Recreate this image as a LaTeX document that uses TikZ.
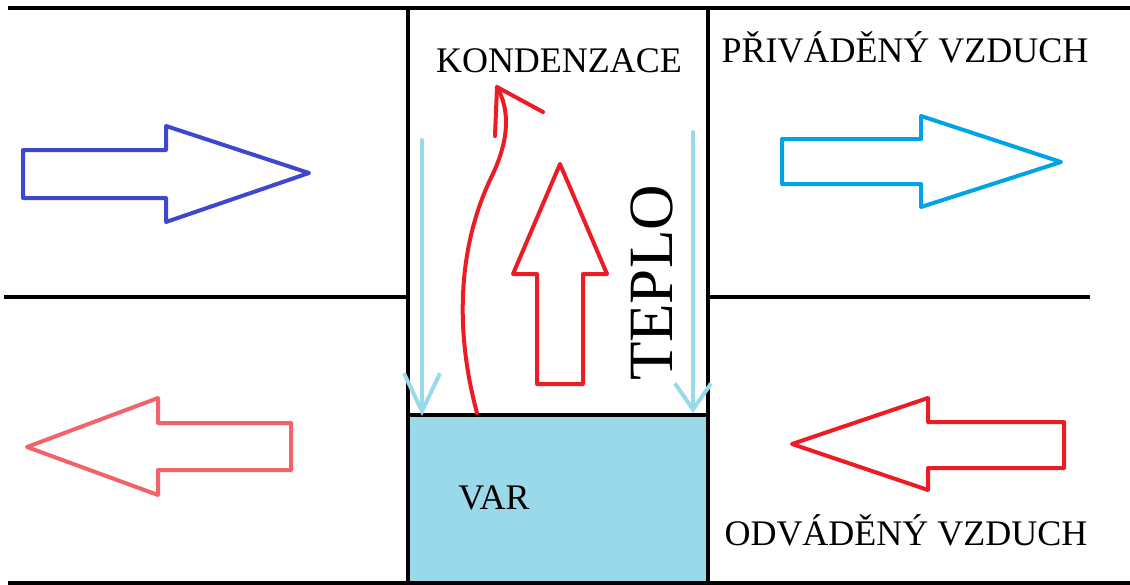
\documentclass[tikz,border=0pt]{standalone}
\usepackage{fontspec}
\setmainfont{Liberation Serif}
\usetikzlibrary{arrows.meta, positioning}
\definecolor{outdoor}{RGB}{63,72,204}
\definecolor{indoor}{RGB}{241,98,106}
\definecolor{fresh}{RGB}{0,162,232}
\definecolor{hot}{RGB}{237,28,36}
\definecolor{water}{RGB}{153,217,234}
\tikzset{
	wall/.style={line width=4.5pt, black},
	caption/.style={font=\fontsize{36}{43}\selectfont, inner sep=0pt},
	blockarrow/.style={line width=4pt, line join=round, line cap=round},
	drip/.style={line width=4pt, draw=water, line cap=round},
	steam/.style={line width=4pt, draw=hot, line cap=round, line join=round}
}

\begin{document}
\begin{tikzpicture}[x=1pt, y=-1pt]
	\useasboundingbox (0,0) rectangle (1130,584);

	% water collected at the bottom of the exchanger
	\fill[water] (408,415) rectangle (708,584);

	% duct walls
	\draw[wall] (8,8) -- (1130,8);
	\draw[wall] (4,297) -- (408,297);
	\draw[wall] (708,297) -- (1090,297);
	\draw[wall] (8,583) -- (1130,583);
	\draw[wall] (408,10) -- (408,584);
	\draw[wall] (708,10) -- (708,584);
	\draw[wall] (408,415) -- (708,415);

	% texts
	\node (kond) [caption, anchor=base] at (559,72) {KONDENZACE};
	\node (supply) [caption, anchor=base] at (905,62) {PŘIVÁDĚNÝ VZDUCH};
	\node (exhaust) [caption, anchor=base] at (906,545) {ODVÁDĚNÝ VZDUCH};
	\node (var) [caption, anchor=base] at (494,509) {VAR};
	\node (teplo) [caption, font=\fontsize{63}{70}\selectfont, rotate=90, anchor=base] at (672,283) {TEPLO};

	% air flows
	\draw[blockarrow, draw=outdoor] (23,150) -- (166,150) -- (166,126) -- (309,173) -- (166,222) -- (166,198) -- (23,198) -- cycle;
	\draw[blockarrow, draw=indoor] (291,423) -- (158,423) -- (158,398) -- (27,447) -- (158,495) -- (158,470) -- (291,470) -- cycle;
	\draw[blockarrow, draw=fresh] (782,139) -- (921,139) -- (921,116) -- (1061,162) -- (921,207) -- (921,184) -- (782,184) -- cycle;
	\draw[blockarrow, draw=hot] (1064,422) -- (928,422) -- (928,398) -- (792,444) -- (928,490) -- (928,468) -- (1064,468) -- cycle;

	% heat going up
	\draw[blockarrow, draw=hot] (537,384) -- (537,274) -- (513,274) -- (560,164) -- (607,274) -- (583,274) -- (583,384) -- cycle;

	% condensate running down the walls
	\coordinate (dripL) at (422,140);
	\coordinate (poolL) at (422,416);
	\coordinate (dripR) at (693,132);
	\coordinate (poolR) at (693,413);
	\draw[drip, -{Straight Barb[length=38pt, width=36pt]}] (dripL) -- (poolL);
	\draw[drip, -{Straight Barb[length=26pt, width=36pt]}] (dripR) -- (poolR);

	% vapour rising from the water
	\coordinate (vapour) at (477,413);
	\coordinate (vtip) at (497,87);
	\draw[steam] (vapour) .. controls (452,320) and (462,240) .. (490,180) .. controls (510,140) and (510,110) .. (vtip);
	\draw[steam] (495,136) -- (vtip) -- (543,112);
\end{tikzpicture}
\end{document}
